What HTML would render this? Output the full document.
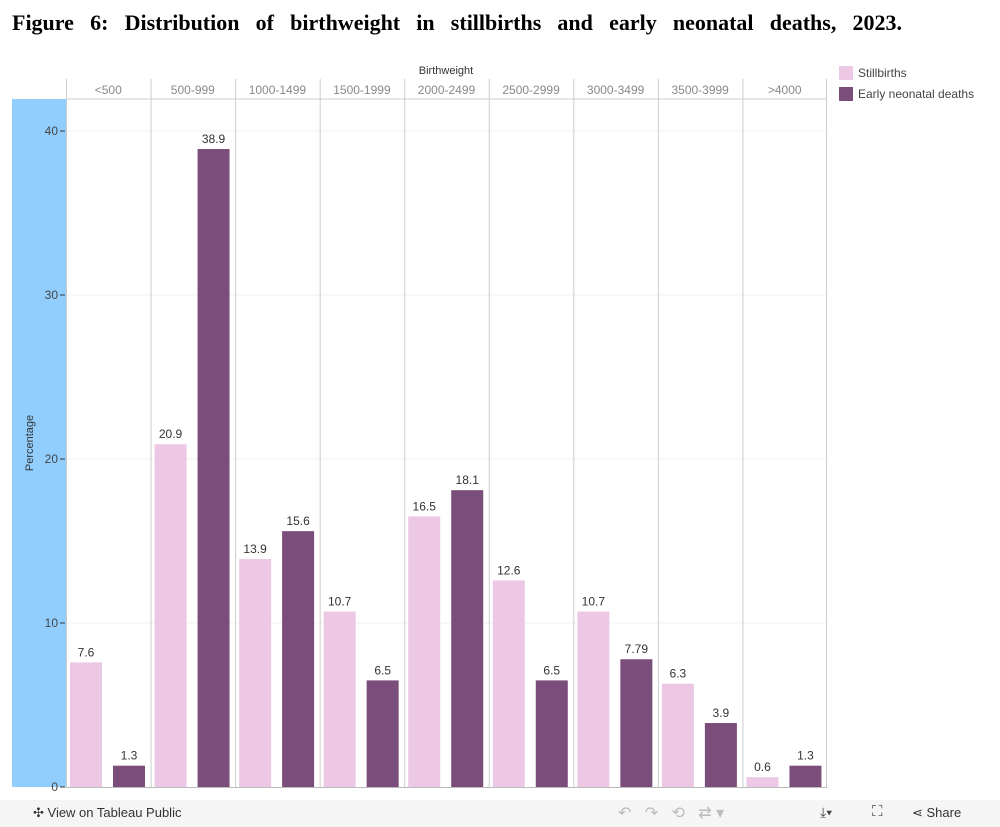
<!DOCTYPE html>
<html><head><meta charset="utf-8"><style>
body{margin:0;width:1000px;height:827px;background:#fff;overflow:hidden;font-family:"Liberation Sans",sans-serif;position:relative}
#title{position:absolute;left:12px;top:10px;width:890px;font:bold 22px "Liberation Serif",serif;text-align:justify;text-align-last:justify;color:#000}
#toolbar{position:absolute;left:0;top:800px;width:1000px;height:27px;background:#f5f5f5}
</style></head><body>
<div id="title">Figure 6: Distribution of birthweight in stillbirths and early neonatal deaths, 2023.</div>
<svg id="chart" width="1000" height="800" style="position:absolute;left:0;top:0"></svg>
<div id="toolbar">
<span style="position:absolute;left:33px;top:5px;font-size:13px;color:#333">✣ View on Tableau Public</span>
<span style="position:absolute;left:618px;top:3px;font-size:16px;color:#bbb">↶ &nbsp; ↷ &nbsp; ⟲ &nbsp; ⇄ ▾</span>
<span style="position:absolute;left:820px;top:4px;font-size:14px;color:#444">⤓▾</span>
<span style="position:absolute;left:872px;top:3px;font-size:15px;color:#444">⛶</span>
<span style="position:absolute;left:912px;top:5px;font-size:13px;color:#333">⋖ Share</span>
</div>
<script>
const categories=["<500","500-999","1000-1499","1500-1999","2000-2499","2500-2999","3000-3499","3500-3999",">4000"];
const stillbirths=[7.6,20.9,13.9,10.7,16.5,12.6,10.7,6.3,0.6];
const neonatal=[1.3,38.9,15.6,6.5,18.1,6.5,7.79,3.9,1.3];
const yTicks=[0,10,20,30,40];
const NS="http://www.w3.org/2000/svg";
const svg=document.getElementById('chart');
const X0=66,X1=827,Y0=787,TOP=99;
const colW=(X1-X0)/categories.length;
const y=v=>Y0-v*16.4;
function mk(t,a,txt){const e=document.createElementNS(NS,t);for(const k in a)e.setAttribute(k,a[k]);if(txt!=null)e.textContent=txt;svg.appendChild(e);return e;}
let e;
e=mk('rect',{x:12,y:TOP,width:X0-12,height:Y0-TOP,fill:'#91cefe'});

e=mk('text',{x:446,y:74,'font-size':11,fill:'#333','text-anchor':'middle'},'Birthweight');

e=mk('text',{x:33,y:443,'font-size':11,fill:'#333','text-anchor':'middle',transform:'rotate(-90 33 443)'},'Percentage');

yTicks.forEach(t=>{
 if(t>0){e=mk('line',{x1:X0,x2:X1,y1:y(t),y2:y(t),stroke:'#f0f0f0'});}
 mk('line',{x1:60,x2:65,y1:y(t),y2:y(t),stroke:'#333'});
 e=mk('text',{x:58,y:y(t)+4,'font-size':12,fill:'#444','text-anchor':'end'},String(t));
 
});
mk('line',{x1:X0,x2:X1,y1:TOP,y2:TOP,stroke:'#ccc'});
categories.forEach((c,i)=>{
 const cx=X0+i*colW;
 mk('line',{x1:cx+0.5,x2:cx+0.5,y1:79,y2:Y0,stroke:'#ccc'});
 e=mk('text',{x:cx+colW/2,y:94,'font-size':12,fill:'#888','text-anchor':'middle'},c);
 
 [[stillbirths[i],'#edc8e4',4,'bar-stillbirths'],[neonatal[i],'#7b4d7a',47,'bar-neonatal']].forEach(([v,col,off,nm])=>{
  e=mk('rect',{x:cx+off,y:y(v),width:32,height:Y0-y(v),fill:col});
  
  e=mk('text',{x:cx+off+16,y:y(v)-6,'font-size':12,fill:'#333','text-anchor':'middle'},String(v));
  
 });
});
mk('line',{x1:X1-0.5,x2:X1-0.5,y1:79,y2:Y0,stroke:'#ccc'});
mk('line',{x1:X0,x2:X1,y1:Y0+0.5,y2:Y0+0.5,stroke:'#bbb'});
[['#edc8e4','Stillbirths',72],['#7b4d7a','Early neonatal deaths',93]].forEach(([c,t,ly])=>{
 e=mk('rect',{x:839,y:ly-6,width:14,height:14,fill:c});
 
 e=mk('text',{x:858,y:ly+5,'font-size':12,fill:'#444'},t);
 
});
</script>
</body></html>
